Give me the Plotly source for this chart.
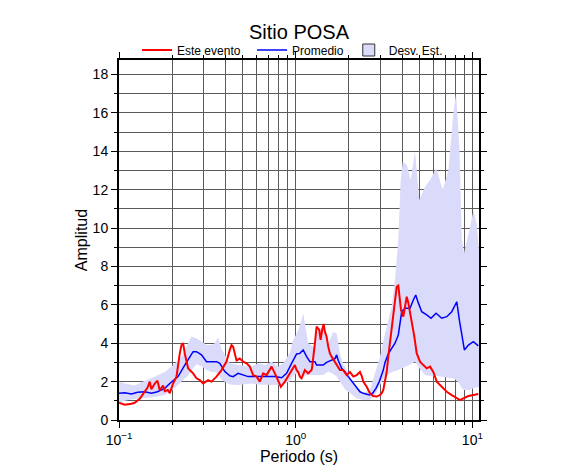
import math

import plotly.graph_objects as go

# Este evento (periodo en s, amplitud)
per_evento = [0.1, 0.1077, 0.1176, 0.1227, 0.131, 0.1398, 0.1454, 0.1493, 0.1526, 0.1593,
              0.165, 0.1701, 0.1775, 0.1815, 0.1888, 0.1938, 0.2023, 0.2115, 0.2159, 0.2208,
              0.2257, 0.2305, 0.2356, 0.2409, 0.246, 0.2515, 0.2626, 0.2745, 0.2866, 0.2992,
              0.3193, 0.3338, 0.3563, 0.3803, 0.406, 0.4238, 0.4333, 0.4425, 0.4625, 0.4828,
              0.504, 0.5269, 0.5501, 0.5743, 0.6003, 0.6268, 0.6544, 0.6842, 0.7303, 0.7625,
              0.796, 0.8245, 0.8687, 0.927, 0.9679, 0.9896, 1.012, 1.033, 1.056, 1.08,
              1.127, 1.177, 1.23, 1.24, 1.285, 1.313, 1.359, 1.384, 1.413, 1.439,
              1.463, 1.496, 1.528, 1.562, 1.597, 1.668, 1.741, 1.78, 1.858, 1.943,
              2.028, 2.118, 2.213, 2.311, 2.363, 2.413, 2.522, 2.633, 2.749, 2.873,
              3.0, 3.067, 3.132, 3.202, 3.273, 3.342, 3.494, 3.615, 3.73, 3.808,
              3.858, 3.945, 4.066, 4.157, 4.25, 4.34, 4.537, 4.693, 4.842, 5.055,
              5.278, 5.516, 5.759, 6.012, 6.284, 6.708, 7.161, 7.644, 8.16, 8.519,
              8.892, 9.491, 10.13, 10.81]
amp_evento = [0.9, 0.8, 0.85, 0.9, 1.1, 1.45, 1.7, 2.0, 1.6, 1.9,
              2.05, 1.55, 1.8, 1.5, 1.56, 1.4, 1.9, 2.26, 2.95, 3.47,
              3.9, 4.0, 3.47, 3.04, 2.7, 2.6, 2.43, 2.17, 2.08, 1.9,
              2.08, 2.0, 2.26, 2.6, 3.04, 3.65, 3.9, 3.82, 3.1, 3.2,
              3.04, 2.95, 2.78, 2.34, 2.26, 2.0, 2.43, 2.34, 2.78, 2.43,
              2.0, 1.73, 2.0, 2.43, 2.78, 2.86, 2.6, 2.5, 2.26, 2.17,
              2.6, 2.43, 2.6, 2.78, 4.0, 4.86, 4.7, 4.17, 4.7, 5.0,
              4.6, 4.34, 3.82, 3.47, 3.3, 3.04, 2.78, 2.6, 2.6, 2.34,
              2.5, 2.26, 2.34, 2.5, 2.3, 2.0, 1.73, 1.39, 1.25, 1.22,
              1.3, 1.39, 1.56, 2.0, 2.5, 3.3, 4.86, 5.73, 6.94, 7.0,
              6.5, 5.73, 5.38, 5.9, 6.42, 6.1, 5.2, 4.34, 3.47, 3.04,
              2.86, 2.69, 2.78, 2.5, 2.0, 1.73, 1.47, 1.3, 1.13, 1.04,
              1.13, 1.25, 1.3, 1.35]

# Promedio
per_prom = [0.1, 0.1077, 0.1176, 0.1276, 0.1398, 0.1526, 0.165, 0.1815, 0.1938, 0.2159,
            0.2356, 0.2515, 0.2626, 0.2745, 0.293, 0.3127, 0.3338, 0.3563, 0.3719, 0.3971,
            0.4238, 0.4425, 0.4722, 0.504, 0.538, 0.5871, 0.6409, 0.6986, 0.7625, 0.8321,
            0.8882, 0.9479, 1.012, 1.056, 1.103, 1.153, 1.204, 1.285, 1.313, 1.371,
            1.431, 1.496, 1.528, 1.597, 1.668, 1.705, 1.741, 1.82, 1.9, 1.984,
            2.118, 2.213, 2.311, 2.413, 2.522, 2.609, 2.727, 2.847, 2.972, 3.132,
            3.202, 3.273, 3.342, 3.494, 3.648, 3.808, 3.894, 3.982, 4.157, 4.436,
            4.632, 4.779, 4.944, 5.168, 5.516, 5.834, 6.227, 6.708, 7.161, 7.644,
            8.16, 8.441, 9.009, 9.491, 10.13, 10.81]
amp_prom = [1.39, 1.42, 1.36, 1.45, 1.47, 1.39, 1.47, 1.65, 1.9, 2.26,
            2.86, 3.3, 3.56, 3.56, 3.39, 3.04, 3.04, 3.04, 2.95, 2.52,
            2.3, 2.26, 2.43, 2.34, 2.26, 2.26, 2.26, 2.26, 2.26, 2.2,
            2.43, 2.95, 3.44, 3.47, 3.65, 3.3, 3.04, 3.04, 2.86, 2.86,
            2.86, 3.0, 3.04, 3.1, 3.2, 3.39, 3.1, 2.69, 2.52, 2.26,
            1.9, 1.65, 1.47, 1.39, 1.34, 1.3, 1.4, 1.65, 2.0, 2.6,
            3.0, 3.2, 3.45, 3.73, 4.0, 4.43, 5.03, 5.64, 5.82, 5.82,
            6.25, 6.51, 6.1, 5.64, 5.47, 5.3, 5.56, 5.3, 5.38, 5.64,
            6.16, 5.2, 3.65, 3.9, 4.08, 3.86]

# Desviación estándar (límites superior e inferior)
per_desv = [0.1, 0.1077, 0.1227, 0.1398, 0.1593, 0.1815, 0.2023, 0.2257, 0.246, 0.2572,
            0.2745, 0.293, 0.3127, 0.3338, 0.3485, 0.3638, 0.3803, 0.406, 0.4238, 0.4722,
            0.5624, 0.613, 0.6691, 0.7303, 0.796, 0.8497, 0.927, 0.9679, 1.012, 1.056,
            1.103, 1.177, 1.256, 1.341, 1.431, 1.528, 1.631, 1.705, 1.78, 1.858,
            1.9, 2.028, 2.213, 2.413, 2.633, 2.81, 3.0, 3.202, 3.418, 3.494,
            3.648, 3.808, 3.93, 4.034, 4.25, 4.477, 4.736, 5.008, 5.395, 5.759,
            6.227, 6.797, 7.311, 7.806, 8.085, 8.441, 8.709, 8.974, 9.616, 10.13,
            10.59, 10.96]
desv_sup = [2.0, 1.9, 1.8, 2.05, 2.25, 2.5, 2.85, 3.3, 4.0, 4.35,
            4.25, 4.1, 3.9, 3.9, 4.0, 4.3, 3.7, 3.2, 2.95, 2.86,
            2.78, 2.95, 2.86, 3.04, 2.78, 2.95, 3.5, 4.17, 4.5, 4.9,
            5.56, 4.0, 3.82, 4.69, 4.86, 4.0, 4.6, 4.5, 3.47, 2.9,
            2.78, 2.26, 1.73, 1.39, 1.56, 2.43, 3.3, 4.5, 5.56, 5.9,
            7.3, 9.4, 12.5, 13.45, 13.3, 12.5, 14.0, 11.46, 12.15, 12.5,
            13.1, 12.0, 13.0, 16.0, 17.0, 14.2, 9.4, 8.7, 9.9, 10.9,
            10.2, 8.5]
desv_inf = [0.9, 1.0, 1.1, 1.15, 1.2, 1.3, 1.6, 2.0, 2.3, 2.6,
            2.9, 2.8, 2.6, 2.5, 2.5, 2.4, 2.1, 1.95, 1.85, 1.82,
            1.9, 1.85, 1.82, 1.82, 1.82, 1.9, 2.0, 2.3, 2.43, 2.3,
            2.26, 2.34, 2.34, 2.34, 2.34, 2.52, 2.4, 2.26, 2.0, 1.73,
            1.6, 1.39, 1.13, 1.04, 1.04, 1.3, 1.82, 2.26, 2.43, 2.5,
            2.55, 2.6, 2.65, 2.69, 2.8, 2.9, 3.04, 2.69, 2.34, 2.3,
            2.3, 2.26, 2.2, 2.17, 2.08, 1.9, 1.65, 1.56, 1.56, 1.65,
            1.7, 1.73]

x_ticks = [0.1, 1, 10]
x_ticktext = ['10<sup>\u22121</sup>', '10<sup>0</sup>', '10<sup>1</sup>']

COLOR_BANDA = 'rgb(218, 218, 250)'
FUENTE = 'Liberation Sans, Arial, sans-serif'
GRIS = '#5a5a5a'
DESP = 8  # margen por defecto del <body> de la página

fig = go.Figure()

fig.add_trace(go.Scatter(
    x=per_desv + per_desv[::-1],
    y=desv_sup + desv_inf[::-1],
    fill='toself',
    fillcolor=COLOR_BANDA,
    line=dict(width=0),
    mode='lines',
    showlegend=False,
    hoverinfo='skip',
))

fig.add_trace(go.Scatter(
    x=per_prom, y=amp_prom,
    mode='lines',
    name='Promedio',
    line=dict(color='#0000ff', width=1.5),
    legendrank=2,
))

fig.add_trace(go.Scatter(
    x=per_evento, y=amp_evento,
    mode='lines',
    name='Este evento\u00a0\u00a0',
    line=dict(color='#ff0000', width=2),
    legendrank=1,
))

# entrada de leyenda para la banda
fig.add_trace(go.Scatter(
    x=[None], y=[None],
    mode='markers',
    name='Desv. Est.',
    marker=dict(symbol='square', size=12, color=COLOR_BANDA, line=dict(color='#333333', width=1)),
    legendrank=3,
))

minor_x = [m * d for d in (0.1, 1) for m in range(2, 10)]

fig.update_xaxes(
    type='log',
    range=[-1, math.log10(10.9)],
    tickvals=x_ticks,
    ticktext=x_ticktext,
    ticks='outside',
    ticklen=6,
    tickcolor='black',
    showgrid=True,
    gridcolor=GRIS,
    gridwidth=1,
    minor=dict(tickvals=minor_x, ticks='outside', ticklen=3, tickcolor='black',
               showgrid=True, gridcolor=GRIS, gridwidth=1),
    showline=True,
    linecolor='black',
    linewidth=2,
    mirror='allticks',
    zeroline=False,
    automargin=False,
    title=dict(text='Periodo (s)', font=dict(size=16), standoff=4),
    tickfont=dict(size=14),
)

fig.update_yaxes(
    range=[0, 18.75],
    dtick=2,
    tick0=0,
    ticks='outside',
    ticklen=6,
    tickcolor='black',
    showgrid=True,
    gridcolor=GRIS,
    gridwidth=1,
    minor=dict(dtick=1, ticks='outside', ticklen=3, tickcolor='black',
               showgrid=True, gridcolor=GRIS, gridwidth=1),
    showline=True,
    linecolor='black',
    linewidth=2,
    mirror='allticks',
    zeroline=False,
    automargin=False,
    title=dict(text='Amplitud', font=dict(size=16), standoff=1),
    tickfont=dict(size=14),
)

fig.update_layout(
    width=586,
    height=475,
    margin=dict(l=119 - DESP, r=107 + DESP, t=60 - DESP, b=55 + DESP, autoexpand=False),
    paper_bgcolor='white',
    plot_bgcolor='white',
    font=dict(family=FUENTE, color='black'),
    title=dict(text='Sitio POSA', x=0.5, xref='paper', xanchor='center',
               y=1 - (32 - DESP) / 475, yref='container', yanchor='middle',
               font=dict(size=20)),
    legend=dict(orientation='h', x=0.482, xanchor='center', y=(420 - 50) / 360,
                yanchor='middle', font=dict(size=12), bgcolor='rgba(0,0,0,0)', itemwidth=30,
                traceorder='normal', tracegroupgap=0),
    showlegend=True,
)

fig.write_html('out.html')
